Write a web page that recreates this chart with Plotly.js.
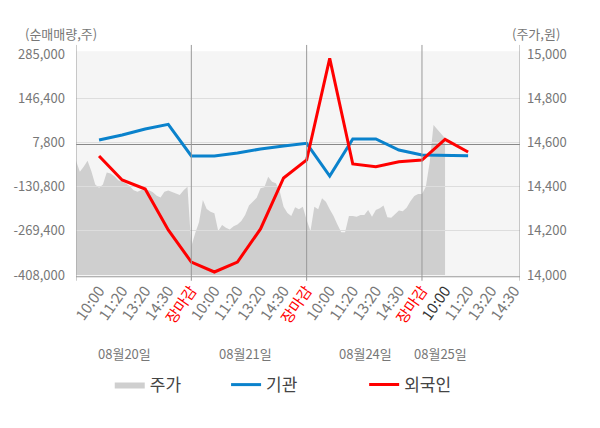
<!DOCTYPE html>
<html>
<head>
<meta charset="utf-8">
<script src="https://cdn.plot.ly/plotly-3.0.1.min.js"></script>
<style>
  html, body { margin: 0; padding: 0; background: #fff; }
  #chart { width: 600px; height: 428px; }
</style>
</head>
<body>
<div id="chart"></div>
<script>
// tick labels of one trading day, and the days shown
const slotLabels = ['10:00', '11:20', '13:20', '14:30', '장마감'];
const dayLabels = ['08월20일', '08월21일', '08월24일', '08월25일'];

// net buy volume (shares) at each label slot, slot 1 .. 17
const instValues = [15300, 31000, 49800, 64600, -34800,
                    -34800, -25400, -12900, -3500, 5000,
                    -97600, 18500, 18500, -16000, -31700,
                    -33900, -33900];
const foreignValues = [-34800, -110100, -138300, -266900, -367300,
                       -398600, -367300, -263700, -103800, -47400,
                       271500, -59900, -68400, -52700, -47400,
                       17300, -22300];

// share price (won), 6 samples per label slot
const priceDay1 = [14517, 14467, 14490, 14517, 14469, 14409, 14395, 14409, 14464, 14459,
                   14447, 14429, 14422, 14414, 14402, 14384, 14377, 14385, 14385, 14383,
                   14374, 14359, 14351, 14377, 14382, 14377, 14369, 14362, 14384, 14399];
const priceDay2 = [14129, 14189, 14239, 14339, 14299, 14286, 14279, 14199, 14226, 14214,
                   14206, 14221, 14229, 14244, 14271, 14314, 14332, 14349, 14392, 14397,
                   14445, 14422, 14415, 14379, 14309, 14281, 14267, 14307, 14297, 14309];
const priceDay3 = [14249, 14199, 14309, 14297, 14347, 14332, 14297, 14267, 14229, 14194,
                   14194, 14267, 14267, 14264, 14271, 14271, 14294, 14264, 14294, 14302,
                   14314, 14261, 14259, 14277, 14292, 14289, 14304, 14334, 14357, 14366];
const priceDay4 = [14366, 14399, 14509, 14679, 14659, 14639, 14619];

const volTicks = [-408000, -269400, -130800, 7800, 146400, 285000];
const priceTicks = [14000, 14200, 14400, 14600, 14800, 15000];

const slotsPerDay = slotLabels.length;
const samplesPerSlot = 6;

// x ticks: every slot, last day stops before the close
const tickVals = [];
const tickText = [];
dayLabels.forEach((d, di) => {
    slotLabels.forEach((lab, si) => {
        if (di === dayLabels.length - 1 && si === slotsPerDay - 1) return;
        tickVals.push(di * slotsPerDay + si + 1);
        if (lab === '장마감') {
            tickText.push('<span style="color:#ff0000">' + lab + '</span>');
        } else if (di === dayLabels.length - 1 && si === 0) {
            tickText.push('<span style="color:#333333">' + lab + '</span>');
        } else {
            tickText.push(lab);
        }
    });
});

const price = priceDay1.concat(priceDay2, priceDay3, priceDay4);
const priceX = price.map((v, i) => i / samplesPerSlot);
const lineX = instValues.map((v, i) => i + 1);

const xMax = 19.25;

const data = [
    {
        x: priceX,
        y: price,
        xaxis: 'x',
        yaxis: 'y',
        type: 'scatter',
        mode: 'lines',
        name: '주가',
        legend: 'legend',
        fill: 'tozeroy',
        fillcolor: '#cfcfcf',
        line: {color: '#cfcfcf', width: 0},
        hoverinfo: 'skip'
    },
    {
        x: lineX,
        y: instValues,
        xaxis: 'x2',
        yaxis: 'y2',
        type: 'scatter',
        mode: 'lines',
        name: '기관',
        legend: 'legend2',
        line: {color: '#0a82cc', width: 3}
    },
    {
        x: lineX,
        y: foreignValues,
        xaxis: 'x2',
        yaxis: 'y2',
        type: 'scatter',
        mode: 'lines',
        name: '외국인',
        legend: 'legend3',
        line: {color: '#ff0000', width: 3}
    }
];

const tickFont = {family: 'Noto Sans CJK KR, Noto Sans, sans-serif', size: 13, color: '#777777'};
const legendFont = {family: 'Noto Sans CJK KR, sans-serif', size: 17, color: '#444444'};

// plot background, day boundaries and axis frame
const shapes = [
    {type: 'rect', xref: 'paper', yref: 'paper', x0: 0, x1: 1, y0: -0.008, y1: 1.012,
     fillcolor: '#f5f5f5', line: {width: 0}, layer: 'below'},
    {type: 'line', xref: 'paper', yref: 'paper', x0: 0, x1: 1, y0: -0.008, y1: -0.008,
     line: {color: '#999999', width: 1}, layer: 'above'}
];
[0, slotsPerDay, 2 * slotsPerDay, 3 * slotsPerDay, xMax].forEach(v => {
    shapes.push({type: 'line', xref: 'x', yref: 'paper', x0: v, x1: v, y0: -0.026, y1: 1.041,
                 line: {color: '#999999', width: 1}, layer: 'above'});
});

const dayCenters = [2.12, 7.33, 12.53, 15.82];
const annotations = dayLabels.map((d, i) => ({
    text: d, xref: 'x', yref: 'paper', x: dayCenters[i], y: -0.353,
    showarrow: false, xanchor: 'center', yanchor: 'middle',
    font: {family: 'Noto Sans CJK KR, sans-serif', size: 13, color: '#777777'}
}));
annotations.push({
    text: '(순매매량,주)', xref: 'paper', yref: 'paper', x: -0.034, y: 1.095,
    showarrow: false, xanchor: 'center', yanchor: 'middle', font: tickFont
});
annotations.push({
    text: '(주가,원)', xref: 'paper', yref: 'paper', x: 1.036, y: 1.095,
    showarrow: false, xanchor: 'center', yanchor: 'middle', font: tickFont
});

const layout = {
    width: 600,
    height: 428,
    margin: {l: 76, r: 80, t: 54, b: 153},
    paper_bgcolor: '#ffffff',
    plot_bgcolor: 'rgba(0,0,0,0)',
    font: {family: 'Noto Sans CJK KR, Noto Sans, sans-serif'},
    showlegend: true,
    legend: {orientation: 'h', x: 0.076, xanchor: 'left', y: -0.498, yanchor: 'middle', font: legendFont},
    legend2: {orientation: 'h', x: 0.338, xanchor: 'left', y: -0.498, yanchor: 'middle', font: legendFont},
    legend3: {orientation: 'h', x: 0.649, xanchor: 'left', y: -0.498, yanchor: 'middle', font: legendFont},
    xaxis: {
        range: [0, xMax], tickvals: tickVals, ticktext: tickText, tickangle: -55,
        tickfont: {family: 'Noto Sans CJK KR, Noto Sans, sans-serif', size: 15, color: '#777777'},
        showgrid: false, zeroline: false, showline: false, ticks: '',
        ticklabelstandoff: 3, fixedrange: true
    },
    yaxis: {
        side: 'right', range: [14000, 15000], tickvals: priceTicks, tickformat: ',d',
        tickfont: tickFont, showgrid: false, zeroline: false, showline: false,
        ticks: '', ticklabelstandoff: 6
    },
    xaxis2: {
        anchor: 'y2', range: [0, xMax], visible: false, matches: 'x'
    },
    yaxis2: {
        anchor: 'x2', side: 'left', range: [-408000, 285000], tickvals: volTicks,
        ticktext: volTicks.map(v => (v < 0 ? '-' : '') + Math.abs(v).toLocaleString('en-US')),
        tickfont: tickFont, showgrid: true, gridcolor: '#dddddd', gridwidth: 1,
        zeroline: true, zerolinecolor: '#888888', zerolinewidth: 1,
        showline: false, ticks: '', ticklabelstandoff: 10
    },
    shapes: shapes,
    annotations: annotations
};

Plotly.newPlot('chart', data, layout, {displayModeBar: false, staticPlot: true});
</script>
</body>
</html>
